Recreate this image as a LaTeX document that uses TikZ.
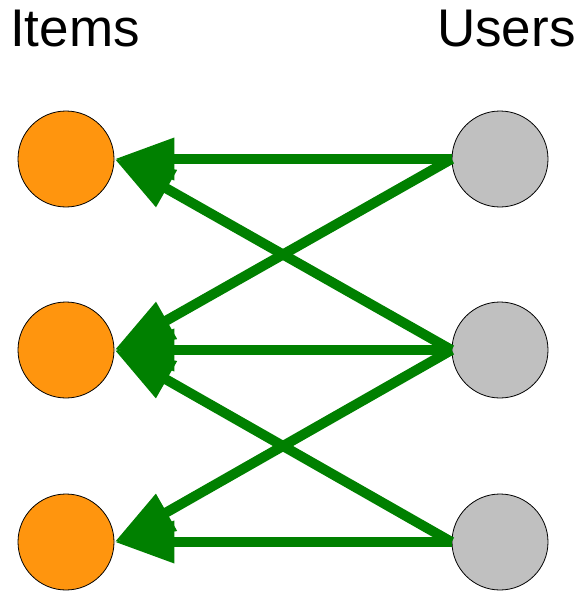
\documentclass[tikz,border=0pt]{standalone}
\usepackage{fontspec}
\setmainfont{Liberation Sans}
\usetikzlibrary{arrows.meta}
\definecolor{itemorange}{HTML}{FF950E}
\definecolor{usergray}{HTML}{C0C0C0}
\definecolor{edgegreen}{HTML}{008000}
\tikzset{
 itemnode/.style={circle, draw=black, line width=.8pt, fill=itemorange, minimum size=96pt, inner sep=0},
 usernode/.style={circle, draw=black, line width=.8pt, fill=usergray, minimum size=96pt, inner sep=0},
 rates/.style={edgegreen, line width=10pt, -{Triangle[length=60pt,width=40pt]}},
 header/.style={anchor=base west, inner sep=0, font=\fontsize{53}{56}\selectfont}
}

\begin{document}
\begin{tikzpicture}[x=1pt,y=-1pt]
\useasboundingbox (0,0) rectangle (578,591);
\node[header] (itemstitle) at (10,47) {Items};
\node[header] (userstitle) at (437,47) {Users};
\foreach \k/\y in {1/159,2/350,3/542} {
 \node[itemnode] (i\k) at (66,\y) {};
 \node[usernode] (u\k) at (500,\y) {};
}
\foreach \u/\i in {1/1,1/2,2/1,2/2,2/3,3/2,3/3} {
 \draw[rates] (u\u.west) -- (i\i.east);
}
\end{tikzpicture}
\end{document}
